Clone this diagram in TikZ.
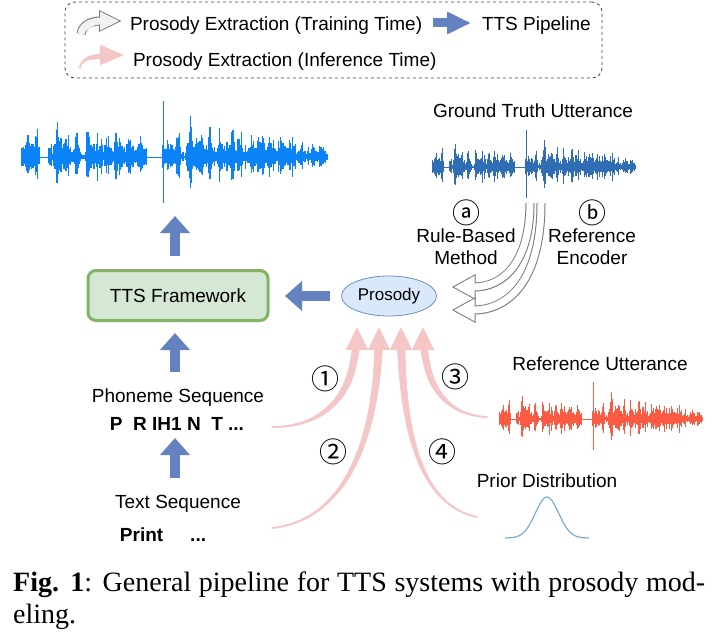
\documentclass[tikz,border=0pt]{standalone}
\usepackage{fontspec}
\setmainfont{Liberation Sans}
\newfontfamily\capfont{Liberation Serif}
\newfontfamily\circfont{Noto Sans CJK SC}
\usetikzlibrary{arrows.meta, positioning, shapes.geometric, decorations.markings}
\definecolor{pipeblue}{HTML}{6382BF}
\definecolor{fwgreen}{HTML}{82B366}
\definecolor{fwfill}{HTML}{D5E8D4}
\definecolor{prosblue}{HTML}{6C8EBF}
\definecolor{prosfill}{HTML}{DAE8FC}
\definecolor{pinkarr}{HTML}{F5C6C6}
\definecolor{hollowgray}{HTML}{7A7A7A}
\definecolor{outblue}{HTML}{0B83F8}
\definecolor{gtblue}{HTML}{2F6DB5}
\definecolor{refred}{HTML}{FA5B42}
\definecolor{gaussblue}{HTML}{7BAAD8}
\tikzset{
  lbl/.style={font=\fontsize{19}{22}\selectfont, inner sep=0pt, outer sep=0pt, align=center},
  boldlbl/.style={lbl, font=\fontsize{19}{22}\selectfont\bfseries},
  numcirc/.style={font=\circfont\fontsize{28}{30}\selectfont, inner sep=0pt},
  wavebox/.style={inner sep=0pt, outer sep=0pt},
  legendbox/.style={draw=black!75, dashed, line width=0.8pt, rounded corners=10pt,
    inner sep=0pt, outer sep=0pt},
  framework/.style={rectangle, rounded corners=8pt, draw=fwgreen, line width=3pt,
    fill=fwfill, minimum width=180pt, minimum height=50pt, outer sep=0pt,
    font=\fontsize{19}{22}\selectfont},
  prosody/.style={ellipse, draw=prosblue, fill=prosfill, line width=0.8pt,
    minimum width=95pt, minimum height=40pt, inner sep=0pt, outer sep=0pt,
    font=\fontsize{17}{20}\selectfont},
  pipe/.style={draw=pipeblue, line width=10pt, -{Triangle[width=29pt,length=17pt]}},
  hollowout/.style={draw=hollowgray, line width=9pt, -{Triangle[width=24pt,length=24pt]}},
  hollowin/.style={draw=white, line width=7pt, shorten >=2.2pt,
    -{Triangle[width=20.8pt,length=20.8pt]}},
  pinkarrow/.style={draw=pinkarr, line width=1.6pt, -{Triangle[width=22pt,length=23pt]},
    postaction={decorate},
    decoration={markings, mark=between positions 0 and -18pt step 1pt with {
      \pgfmathsetmacro\tpr{0.8+3.7*\pgfkeysvalueof{/pgf/decoration/mark info/distance from start}/\pgfdecoratedpathlength}
      \fill[pinkarr] (0,0) circle (\tpr pt);}}},
  gausscurve/.style={draw=gaussblue, line width=1.2pt},
}
% speech waveform: x0, y centre, scale, colour
\newcommand{\speechwave}[4]{%
  \pgfmathsetseed{11}%
  \pgfmathsetmacro{\wW}{305*#3}%
  \pgfmathsetmacro{\wlw}{1.25*#3}%
  \draw[#4, line width=0.8pt] (#1,#2) -- ++(\wW,0);
  \foreach \i in {0,...,250}{%
    \pgfmathsetmacro{\wt}{\i/250}%
    \pgfmathsetmacro{\wlev}{\wt<0.06 ? 30 : (\wt<0.087 ? 0.5 : (\wt<0.11 ? 22 : (\wt<0.135 ? 40 : (\wt<0.19 ? 28 : (\wt<0.21 ? 8 : (\wt<0.25 ? 27 : (\wt<0.30 ? 24 : (\wt<0.32 ? 34 : (\wt<0.41 ? 22 : (\wt<0.458 ? 0.5 : (\wt<0.52 ? 25 : (\wt<0.54 ? 8 : (\wt<0.56 ? 42 : (\wt<0.68 ? 30 : (\wt<0.70 ? 35 : (\wt<0.76 ? 26 : (\wt<0.90 ? 24 : 16)))))))))))))))))}%
    \pgfmathsetmacro{\wa}{#3*\wlev*(0.3+0.7*rnd)*(0.4+0.6*abs(sin(\wt*5400)))}%
    \pgfmathsetmacro{\wb}{\wa*(0.7+0.3*rnd)}%
    \pgfmathsetmacro{\wx}{#1+\wt*\wW}%
    \draw[#4, line width=\wlw pt] (\wx,{#2-\wa}) -- (\wx,{#2+\wb});
  }
  \draw[#4, line width=1.1pt] ({#1+0.465*\wW},{#2-56*#3}) -- ({#1+0.465*\wW},{#2+46*#3});
}

\begin{document}
\begin{tikzpicture}[x=1pt, y=-1pt]
  \useasboundingbox (0,0) rectangle (714,634);

  % legend
  \node[legendbox, minimum width=537pt, minimum height=76pt] (legend) at (333.5,40) {};
  \coordinate (lgw0) at (81,34);
  \coordinate (lgw1) at (122,21);
  \draw[hollowout, -{Triangle[width=20pt,length=23pt]}] (lgw0) .. controls (82,26) and (90,21) .. (lgw1);
  \draw[hollowin, fill=white!95!black, draw=white!95!black, -{Triangle[width=17pt,length=19.6pt]}]
    (lgw0) .. controls (82,26) and (90,21) .. (lgw1);
  \node[lbl, anchor=base west] (lgtrain) at (130,31) {Prosody Extraction (Training Time)};
  \coordinate (lgb0) at (433,23);
  \coordinate (lgb1) at (471,23);
  \draw[pipe, line width=9pt, -{Triangle[width=21pt,length=24pt]}] (lgb0) -- (lgb1);
  \node[lbl, anchor=base west] (lgpipe) at (482,31) {TTS Pipeline};
  \coordinate (lgp0) at (80,68);
  \coordinate (lgp1) at (124,55);
  \draw[pinkarrow, -{Triangle[width=20pt,length=24pt]}] (lgp0) .. controls (81,60) and (88,55) .. (lgp1);
  \node[lbl, anchor=base west] (lginfer) at (133,66.5) {Prosody Extraction (Inference Time)};

  % waveforms
  \node[wavebox, minimum width=306pt, minimum height=104pt] (outwave) at (175,157) {};
  \speechwave{22}{157}{1}{outblue}
  \node[wavebox, minimum width=203pt, minimum height=72pt] (gtwave) at (533.5,167) {};
  \speechwave{432}{167}{0.666}{gtblue}
  \node[wavebox, minimum width=203pt, minimum height=68pt] (refwave) at (600.5,419) {};
  \speechwave{499}{419}{0.666}{refred}
  \node[wavebox, minimum width=84pt, minimum height=41pt] (gauss) at (547,517.5) {};
  \draw[gausscurve] plot[domain=-42:42, samples=61, smooth] ({547+\x},{538-41*exp(-(\x*\x/272.25))});

  % main nodes
  \node[framework] (fw) at (178,295.5) {TTS Framework};
  \node[prosody] (pros) at (389,296) {Prosody};

  % labels
  \node[lbl, anchor=base] (gtlab) at (533,117) {Ground Truth Utterance};
  \node[numcirc] (ca) at (466,213) {ⓐ};
  \node[numcirc] (cb) at (592,213) {ⓑ};
  \node[lbl] (rulelab) at (466,246.5) {Rule-Based\\Method};
  \node[lbl] (enclab) at (592,246.5) {Reference\\Encoder};
  \node[lbl, anchor=base] (phlab) at (178,402) {Phoneme Sequence};
  \node[boldlbl, anchor=base] (phon) at (177,430) {P\ \ R IH1 N\ \ T ...};
  \node[lbl, anchor=base] (txtlab) at (178,508) {Text Sequence};
  \node[boldlbl, anchor=base] (txt) at (163,541) {Print\hspace{27pt}...};
  \node[lbl, anchor=base] (reflab) at (600,370) {Reference Utterance};
  \node[lbl, anchor=base] (priorlab) at (547,487) {Prior Distribution};
  \node[numcirc] (c1) at (325,379) {①};
  \node[numcirc] (c2) at (333,452) {②};
  \node[numcirc] (c3) at (455,377) {③};
  \node[numcirc] (c4) at (442,452) {④};

  % TTS pipeline
  \draw[pipe, shorten <=15pt, shorten >=7pt] ([xshift=-3pt]fw.north) -- ([xshift=-3pt]fw.north |- outwave.south);
  \draw[pipe, shorten <=16pt, shorten >=12.5pt] ([xshift=-3pt]phlab.north) -- ([xshift=-3pt]phlab.north |- fw.south);
  \draw[pipe, shorten <=17pt, shorten >=8pt] ([xshift=-3pt]txtlab.north) -- ([xshift=-3pt]txtlab.north |- phon.south);
  \draw[pipe, shorten <=11.5pt, shorten >=17pt] (pros.west) -- (pros.west -| fw.east);

  % training time extraction
  \draw[hollowout] ([xshift=-3.5pt]gtwave.south) .. controls (530,260) and (505,287) .. ([xshift=15pt,yshift=9pt]pros.east);
  \draw[hollowin] ([xshift=-3.5pt]gtwave.south) .. controls (530,260) and (505,287) .. ([xshift=15pt,yshift=9pt]pros.east);
  \draw[hollowout] ([xshift=7.5pt]gtwave.south) .. controls (541,285) and (505,310) .. ([xshift=15pt,yshift=-14pt]pros.east);
  \draw[hollowin] ([xshift=7.5pt]gtwave.south) .. controls (541,285) and (505,310) .. ([xshift=15pt,yshift=-14pt]pros.east);

  % inference time extraction
  \coordinate (s1) at (272,427);
  \coordinate (s2) at (272,528);
  \coordinate (s3) at (487,417);
  \coordinate (s4) at (477,517);
  \draw[pinkarrow] (s1) .. controls (325,427) and (357,395) .. ([xshift=-32pt,yshift=-11pt]pros.south);
  \draw[pinkarrow] (s2) .. controls (345,520) and (379,440) .. ([xshift=-10pt,yshift=-11pt]pros.south);
  \draw[pinkarrow] (s3) .. controls (445,415) and (423,385) .. ([xshift=34pt,yshift=-11pt]pros.south);
  \draw[pinkarrow] (s4) .. controls (420,505) and (401,430) .. ([xshift=12pt,yshift=-11pt]pros.south);

  % caption
  \node[inner sep=0pt, anchor=base west, align=left, font=\capfont\fontsize{28}{32}\selectfont] (caption) at (13,623)
    {\makebox[692pt][s]{\textbf{Fig. 1}: General pipeline for TTS systems with prosody mod-}\\eling.};
\end{tikzpicture}
\end{document}
